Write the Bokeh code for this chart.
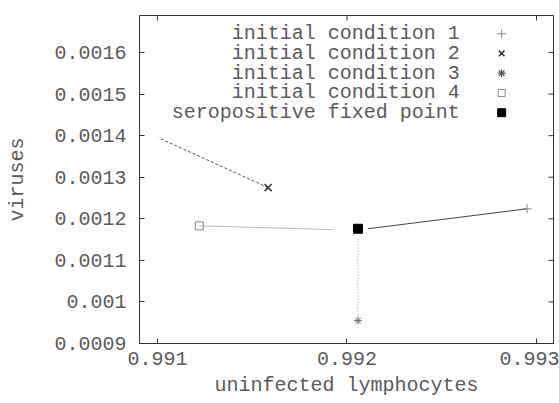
from bokeh.plotting import figure
from bokeh.models import FixedTicker, CustomJSTickFormatter, Range1d
from bokeh.core.properties import value
from bokeh.embed import file_html
from bokeh.resources import INLINE

# ---- data ----
ic1_x = [0.99295, 0.99211]
ic1_y = [0.001224, 0.001176]
ic2_x = [0.991584, 0.991005]
ic2_y = [0.001275, 0.001395]
ic3_x = [0.992058, 0.992058]
ic3_y = [0.000955, 0.001155]
ic4_x = [0.991221, 0.991926]
ic4_y = [0.001183, 0.001174]
fixed_x = [0.992058]
fixed_y = [0.001176]

x_ticks = [0.991, 0.992, 0.993]
y_ticks = [0.0009, 0.001, 0.0011, 0.0012, 0.0013, 0.0014, 0.0015, 0.0016]

legend_labels = ["initial condition 1", "initial condition 2", "initial condition 3",
                 "initial condition 4", "seropositive fixed point"]

FONT = value("Liberation Mono")
TXT = "#5a5a5a"
FS = "20px"

X0, X1 = 0.9909053, 0.9930895
Y0, Y1 = 0.0009, 0.001689

p = figure(width=559, height=403, output_backend="svg", toolbar_location=None,
           x_range=Range1d(X0, X1), y_range=Range1d(Y0, Y1),
           min_border_left=139, min_border_top=15, min_border_right=6, min_border_bottom=60,
           x_axis_label="uninfected lymphocytes", y_axis_label="viruses")
p.outline_line_color = "#333333"
p.outline_line_width = 1
p.xgrid.visible = False
p.ygrid.visible = False

fmt = CustomJSTickFormatter(code="return String(parseFloat(tick.toPrecision(6)));")

for ax, ticks in ((p.xaxis[0], x_ticks), (p.yaxis[0], y_ticks)):
    ax.ticker = FixedTicker(ticks=ticks)
    ax.formatter = fmt
    ax.major_tick_in = 5
    ax.major_tick_out = 0
    ax.minor_tick_in = 0
    ax.minor_tick_out = 0
    ax.axis_line_color = "#333333"
    ax.major_tick_line_color = "#333333"
    ax.major_label_text_font = "Liberation Mono"
    ax.major_label_text_font_size = FS
    ax.major_label_text_color = TXT
    ax.axis_label_text_font = "Liberation Mono"
    ax.axis_label_text_font_size = FS
    ax.axis_label_text_font_style = "normal"
    ax.axis_label_text_color = TXT

p.xaxis[0].major_label_standoff = 8
p.xaxis[0].axis_label_standoff = 6
p.yaxis[0].major_label_standoff = 13
p.yaxis[0].axis_label_standoff = 22

# mirrored inward ticks on the top and right borders (5 px long)
tick_dy = 5 * (Y1 - Y0) / 328
tick_dx = 5 * (X1 - X0) / 414
p.segment(x0=x_ticks, y0=[Y1] * len(x_ticks), x1=x_ticks, y1=[Y1 - tick_dy] * len(x_ticks),
          line_color="#333333", line_width=1)
p.segment(x0=[X1] * len(y_ticks), y0=y_ticks, x1=[X1 - tick_dx] * len(y_ticks), y1=y_ticks,
          line_color="#333333", line_width=1)

# trajectories
p.line(ic1_x, ic1_y, line_color="#444444", line_width=1)
p.line(ic2_x, ic2_y, line_color="#555555", line_width=1, line_dash="3 2")
p.line(ic3_x, ic3_y, line_color="#999999", line_width=1, line_dash="1 2")
p.line(ic4_x, ic4_y, line_color="#bbbbbb", line_width=1)

# initial points and fixed point
p.scatter([ic1_x[0]], [ic1_y[0]], marker="cross", size=9, line_color="#888888", line_width=1)
p.scatter([ic2_x[0]], [ic2_y[0]], marker="x", size=10, line_color="#333333", line_width=1.5)
p.scatter([ic3_x[0]], [ic3_y[0]], marker="asterisk", size=8, line_color="#666666", line_width=1)
p.scatter([ic4_x[0]], [ic4_y[0]], marker="square", size=8, fill_color=None,
          line_color="#888888", line_width=1)
p.scatter(fixed_x, fixed_y, marker="square", size=9, fill_color="black", line_color="black")

# legend (text on the left, symbol on the right, gnuplot style)
leg_text_x = 0.992595
leg_mark_x = 0.992816
leg_y0 = 0.0016452
leg_dy = 0.0000475
leg_ys = [leg_y0 - i * leg_dy for i in range(len(legend_labels))]
p.text(x=[leg_text_x] * len(legend_labels), y=leg_ys, text=legend_labels,
       text_align="right", text_baseline="middle", text_font=FONT,
       text_font_size=FS, text_color=TXT)
p.scatter([leg_mark_x], [leg_ys[0]], marker="cross", size=9, line_color="#888888", line_width=1)
p.scatter([leg_mark_x], [leg_ys[1]], marker="x", size=8, line_color="#333333", line_width=1.5)
p.scatter([leg_mark_x], [leg_ys[2]], marker="asterisk", size=8, line_color="#555555", line_width=1.2)
p.scatter([leg_mark_x], [leg_ys[3]], marker="square", size=7, fill_color=None,
          line_color="#888888", line_width=1)
p.scatter([leg_mark_x], [leg_ys[4]], marker="square", size=8, fill_color="black", line_color="black")

open("out.html", "w").write(file_html(p, INLINE))
